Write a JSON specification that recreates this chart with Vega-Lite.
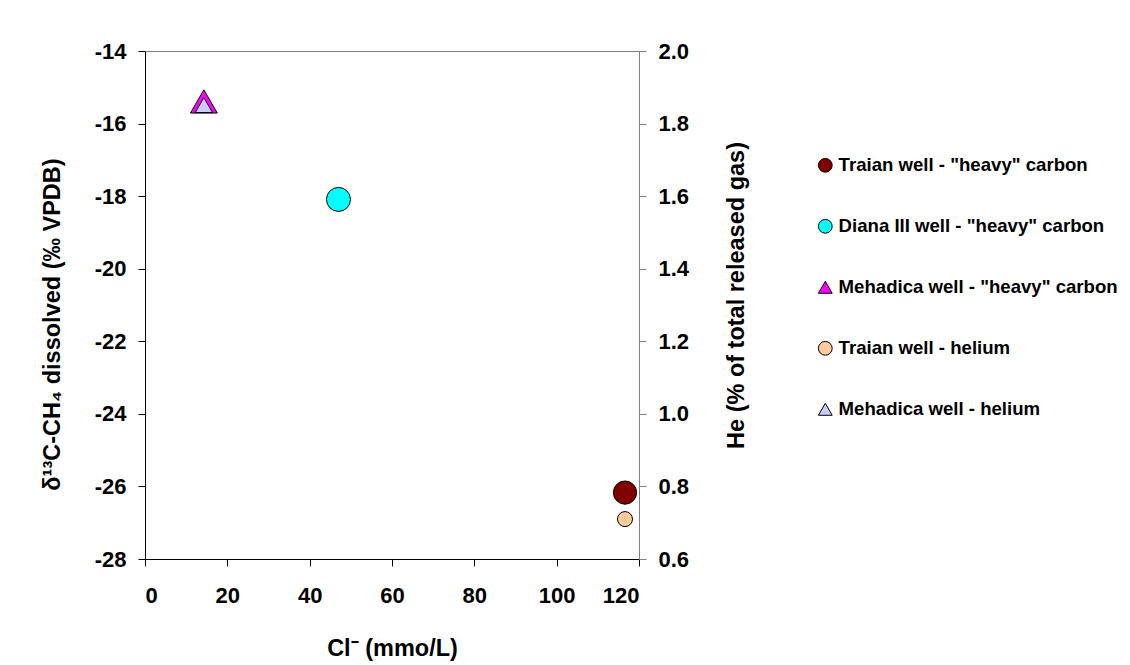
{
  "$schema": "https://vega.github.io/schema/vega-lite/v6.json",
  "autosize": {"type": "none"},
  "padding": {"left": 145, "top": 51, "right": 491, "bottom": 106},
  "width": 494,
  "height": 508,
  "background": "white",
  "config": {
    "font": "Liberation Sans",
    "view": {"stroke": "#808080", "strokeWidth": 1},
    "point": {"filled": true, "stroke": "black", "strokeWidth": 1, "opacity": 1},
    "axis": {
      "labelFont": "Liberation Sans",
      "labelFontWeight": "bold",
      "labelFontSize": 22,
      "labelColor": "black",
      "titleFont": "Liberation Sans",
      "titleFontWeight": "bold",
      "titleFontSize": 23.5,
      "titleColor": "black",
      "grid": false,
      "tickColor": "black",
      "domainColor": "black",
      "tickSize": 7,
      "labelPadding": 12
    },
    "legend": {
      "labelFont": "Liberation Sans",
      "labelFontSize": 18.6,
      "labelFontWeight": "bold",
      "labelColor": "black",
      "symbolSize": 190,
      "symbolStrokeColor": "black",
      "symbolStrokeWidth": 1,
      "rowPadding": 42,
      "labelOffset": 4,
      "padding": 0,
      "labelLimit": 400
    }
  },
  "datasets": {
    "carbon": [
      {"series": "Traian well - \"heavy\" carbon", "cl": 116.6, "d13c": -26.17},
      {"series": "Diana III well - \"heavy\" carbon", "cl": 47.0, "d13c": -18.09},
      {"series": "Mehadica well - \"heavy\" carbon", "cl": 14.3, "d13c": -15.39}
    ],
    "helium": [
      {"series": "Traian well - helium", "cl": 116.6, "he": 0.71},
      {"series": "Mehadica well - helium", "cl": 14.3, "he": 1.851}
    ]
  },
  "layer": [
    {
      "data": {"name": "carbon"},
      "encoding": {
        "x": {
          "field": "cl", "type": "quantitative",
          "scale": {"domain": [0, 120], "nice": false, "zero": false},
          "axis": {
            "values": [0, 20, 40, 60, 80, 100, 120],
            "title": "Cl⁻ (mmo/L)",
            "titleX": 247, "titleY": 89, "titleBaseline": "middle",
            "labelPadding": 19
          }
        },
        "y": {
          "field": "d13c", "type": "quantitative",
          "scale": {"domain": [-28, -14], "nice": false, "zero": false},
          "axis": {
            "orient": "left",
            "values": [-28, -26, -24, -22, -20, -18, -16, -14],
            "labelExpr": "replace(datum.label, '−', '-')",
            "title": "δ¹³C-CH₄ dissolved (‰ VPDB)",
            "titleX": -93, "titleY": 273, "titleBaseline": "middle", "titleAngle": -90
          }
        },
        "color": {
          "field": "series", "type": "nominal",
          "scale": {
            "domain": ["Traian well - \"heavy\" carbon", "Diana III well - \"heavy\" carbon", "Mehadica well - \"heavy\" carbon", "Traian well - helium", "Mehadica well - helium"],
            "range": ["#800000", "#00FFFF", "#FF00FF", "#FFCC99", "#CCCCFF"]
          },
          "legend": {"orient": "none", "legendX": 671, "legendY": 105, "title": null}
        },
        "shape": {
          "field": "series", "type": "nominal",
          "scale": {
            "domain": ["Traian well - \"heavy\" carbon", "Diana III well - \"heavy\" carbon", "Mehadica well - \"heavy\" carbon", "Traian well - helium", "Mehadica well - helium"],
            "range": ["circle", "circle", "triangle-up", "circle", "triangle-up"]
          },
          "legend": {"orient": "none", "legendX": 671, "legendY": 105, "title": null}
        }
      },
      "layer": [
        {
          "transform": [{"filter": {"field": "series", "equal": "Traian well - \"heavy\" carbon"}}],
          "mark": {"type": "point", "size": 540}
        },
        {
          "transform": [{"filter": {"field": "series", "equal": "Diana III well - \"heavy\" carbon"}}],
          "mark": {"type": "point", "size": 576}
        },
        {
          "transform": [{"filter": {"field": "series", "equal": "Mehadica well - \"heavy\" carbon"}}],
          "mark": {"type": "point", "size": 720}
        }
      ]
    },
    {
      "data": {"name": "helium"},
      "encoding": {
        "x": {"field": "cl", "type": "quantitative"},
        "y": {
          "field": "he", "type": "quantitative",
          "scale": {"domain": [0.6, 2.0], "nice": false, "zero": false},
          "axis": {
            "orient": "right",
            "values": [0.6, 0.8, 1.0, 1.2, 1.4, 1.6, 1.8, 2.0],
            "format": ".1f",
            "domainColor": "#808080",
            "tickColor": "#808080",
            "title": "He (% of total released gas)",
            "titleX": 97, "titleY": 244, "titleBaseline": "middle", "titleAngle": -90
          }
        },
        "color": {"field": "series", "type": "nominal"},
        "shape": {"field": "series", "type": "nominal"}
      },
      "layer": [
        {
          "transform": [{"filter": {"field": "series", "equal": "Traian well - helium"}}],
          "mark": {"type": "point", "size": 225}
        },
        {
          "transform": [{"filter": {"field": "series", "equal": "Mehadica well - helium"}}],
          "mark": {"type": "point", "size": 300}
        }
      ]
    }
  ],
  "resolve": {"scale": {"y": "independent"}}
}
